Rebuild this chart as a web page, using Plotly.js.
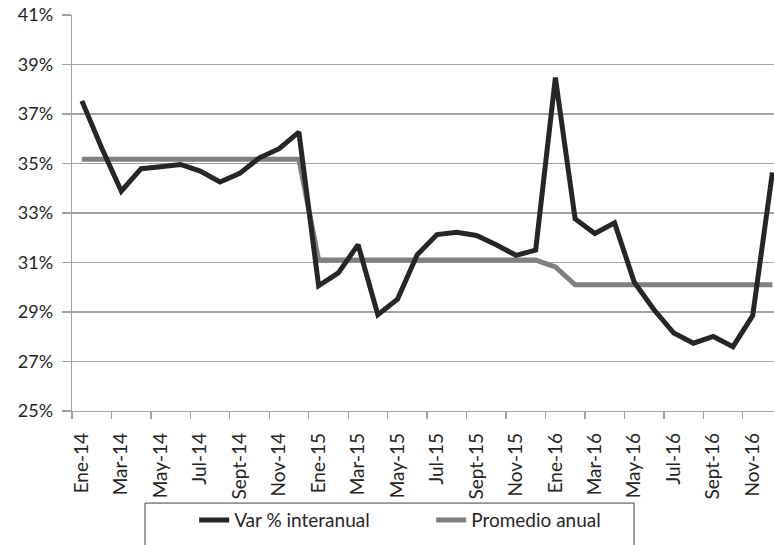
<!DOCTYPE html>
<html>
<head>
<meta charset="utf-8">
<script src="https://cdn.plot.ly/plotly-3.0.1.min.js"></script>
<style>
  html, body { margin: 0; padding: 0; background: #ffffff; }
  #chart { width: 774px; height: 545px; }
</style>
</head>
<body>
<div id="chart"></div>
<script>
// Monthly categories, Jan 2014 – Dec 2016
const months = [
  "Ene-14","Feb-14","Mar-14","Abr-14","May-14","Jun-14","Jul-14","Ago-14","Sept-14","Oct-14","Nov-14","Dic-14",
  "Ene-15","Feb-15","Mar-15","Abr-15","May-15","Jun-15","Jul-15","Ago-15","Sept-15","Oct-15","Nov-15","Dic-15",
  "Ene-16","Feb-16","Mar-16","Abr-16","May-16","Jun-16","Jul-16","Ago-16","Sept-16","Oct-16","Nov-16","Dic-16"
];

// Year-on-year change (%)
const varInteranual = [
  37.53, 35.64, 33.88, 34.79, 34.87, 34.96, 34.69, 34.25, 34.60, 35.23, 35.60, 36.27,
  30.06, 30.58, 31.72, 28.89, 29.52, 31.32, 32.13, 32.22, 32.09, 31.72, 31.29, 31.50,
  38.47, 32.76, 32.17, 32.60, 30.20, 29.09, 28.15, 27.74, 28.01, 27.60, 28.85, 34.64
];

// Annual average (%)
const promedioAnual = [
  35.17, 35.17, 35.17, 35.17, 35.17, 35.17, 35.17, 35.17, 35.17, 35.17, 35.17, 35.17,
  31.10, 31.10, 31.10, 31.10, 31.10, 31.10, 31.10, 31.10, 31.10, 31.10, 31.10, 31.10,
  30.82, 30.10, 30.10, 30.10, 30.10, 30.10, 30.10, 30.10, 30.10, 30.10, 30.10, 30.10
];

const seriesNames = ["Var % interanual", "Promedio anual"];
const yTicks = [25, 27, 29, 31, 33, 35, 37, 39, 41];

const xIdx = months.map((m, i) => i);
const labelIdx = xIdx.filter(i => i % 2 === 0);
const labelText = labelIdx.map(i => months[i]);

const FONT = "Lato, 'Open Sans', sans-serif";
const GRID = "#a3a3a3";
const TEXT = "#262626";

const traces = [
  {
    x: xIdx, y: promedioAnual, name: seriesNames[1],
    type: "scatter", mode: "lines",
    line: { color: "#808080", width: 5 },
    hoverinfo: "skip"
  },
  {
    x: xIdx, y: varInteranual, name: seriesNames[0],
    type: "scatter", mode: "lines",
    line: { color: "#262626", width: 5 },
    hoverinfo: "skip"
  }
];

const layout = {
  width: 774, height: 545,
  margin: { l: 72, r: 0, t: 15, b: 134 },
  paper_bgcolor: "#ffffff", plot_bgcolor: "#ffffff",
  font: { family: FONT, color: TEXT },
  showlegend: true,
  legend: {
    orientation: "h", traceorder: "reversed",
    x: 0.174, xanchor: "left",
    y: -0.2755, yanchor: "middle",
    entrywidth: 192, entrywidthmode: "pixels",
    bgcolor: "rgba(0,0,0,0)", borderwidth: 0,
    font: { family: FONT, size: 19, color: TEXT }
  },
  xaxis: {
    type: "linear",
    range: [-0.5, 35.08],
    showgrid: false, zeroline: false,
    showline: true, linecolor: GRID, linewidth: 1.3,
    tickmode: "array", tickvals: labelIdx, ticktext: labelText,
    ticks: "", tickangle: -90, ticklabelstandoff: 13,
    tickfont: { family: FONT, size: 19, color: TEXT },
    minor: { tickmode: "linear", tick0: -0.5, dtick: 2, ticks: "outside", ticklen: 7, tickwidth: 1.3, tickcolor: GRID, showgrid: false },
    fixedrange: true
  },
  yaxis: {
    range: [25, 41],
    tickmode: "array", tickvals: yTicks, ticktext: yTicks.map(v => v + "%"),
    showgrid: true, gridcolor: GRID, gridwidth: 1.3,
    zeroline: false,
    showline: true, linecolor: GRID, linewidth: 1.3,
    ticks: "outside", ticklen: 9, tickwidth: 1.3, tickcolor: GRID, ticklabelstandoff: 5,
    tickfont: { family: FONT, size: 18, color: TEXT },
    fixedrange: true
  },
  shapes: [
    {
      type: "rect", xref: "paper", yref: "paper",
      x0: 0.104, x1: 0.8006, y0: -0.2325, y1: -0.36,
      line: { color: "#404040", width: 1 }, fillcolor: "rgba(0,0,0,0)",
      layer: "above"
    }
  ]
};

Plotly.newPlot("chart", traces, layout, { displayModeBar: false, staticPlot: true });
</script>
</body>
</html>
